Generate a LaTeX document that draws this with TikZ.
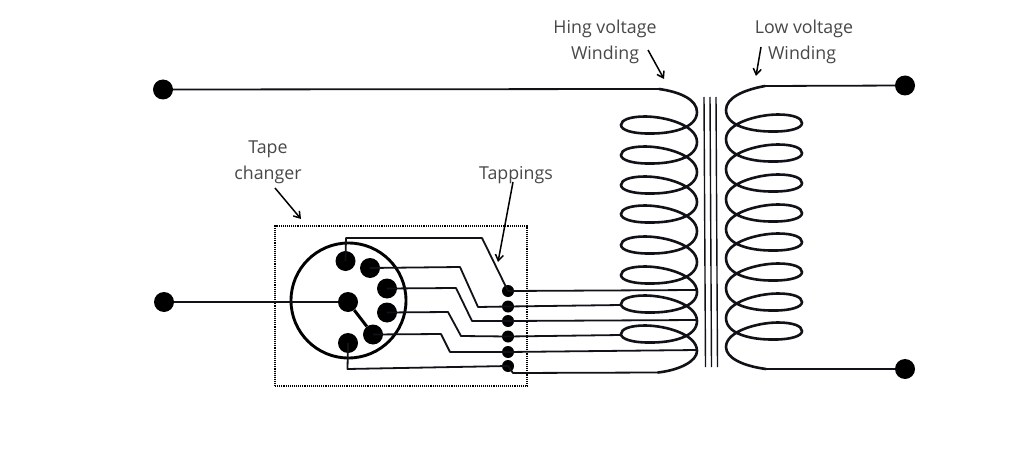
\documentclass[tikz,border=0pt]{standalone}
\usepackage{fontspec}
\setmainfont[Ligatures=TeX]{Open Sans}
\usetikzlibrary{arrows.meta}
\definecolor{ink}{HTML}{111118}
\definecolor{lab}{HTML}{484848}
\tikzset{
  wire/.style={draw=ink,line width=1.8pt,line join=round},
  coil/.style={draw=ink,line width=2.6pt,line cap=round},
  core/.style={draw=ink,line width=1.4pt},
  term/.style={circle,fill=black,inner sep=0pt,minimum size=20pt},
  contact/.style={circle,fill=black,inner sep=0pt,minimum size=20pt},
  tap/.style={circle,fill=black,inner sep=0pt,minimum size=12pt},
  lbl/.style={text=lab,align=center,font=\fontsize{17.8}{26}\selectfont,inner sep=0pt},
  call/.style={draw=black,line width=1.5pt,-{Straight Barb[length=6pt,width=8pt]}},
}
\begin{document}
\begin{tikzpicture}[x=1pt,y=-1pt]
\useasboundingbox[fill=white] (0,0) rectangle (1024,465);
% terminals
\node[term] (tl1) at (163,89.5) {};
\node[term] (tl2) at (164,302) {};
\node[term] (tr1) at (905,85.5) {};
\node[term] (tr2) at (905,369) {};
% coil ends
\coordinate (hvtop) at (659,89);
\coordinate (hvbot) at (658,372.5);
\coordinate (lvtop) at (765,86);
\coordinate (lvbot) at (766,369);
% high voltage coil
\draw[coil] (hvtop) .. controls (681,92) and (697,100) .. (697,112)
  \foreach \y in {125,155,185,214,245,275,304,334}{
   .. controls (697,\y+3) and (672,\y+9) .. (648,\y+8.5)
   .. controls (632,\y+8.5) and (621,\y+5) .. (621,\y)
   .. controls (621,\y-5) and (630,\y-8.5) .. (645,\y-8.5)
   .. controls (665,\y-8.5) and (697,\y) .. (697,\y+17)
  } .. controls (697,361) and (680,370) .. (hvbot);
% low voltage coil
\draw[coil] (lvtop) .. controls (743,90) and (726,98) .. (726,110)
  \foreach \y in {123,153,183,213,242,272,302,331}{
   .. controls (726,\y+3) and (751,\y+9) .. (775,\y+8.5)
   .. controls (791,\y+8.5) and (802,\y+5) .. (802,\y)
   .. controls (802,\y-5) and (793,\y-8.5) .. (778,\y-8.5)
   .. controls (758,\y-8.5) and (726,\y) .. (726,\y+16)
  } .. controls (726,358) and (743,366) .. (lvbot);
% core
\draw[core] (704,97) -- (705.5,367);
\draw[core] (710,97) -- (711.5,367);
\draw[core] (716,97) -- (717.5,367);
% tape changer box
\node[draw=black,line width=1.1pt,densely dotted,inner sep=0pt,minimum width=252pt,minimum height=160pt] (box) at (401,306) {};
\node[draw=black,circle,line width=2.9pt,inner sep=0pt,minimum size=115pt] (ring) at (348.5,300.5) {};
% contacts
\node[contact] (c0) at (348,302) {};
\node[contact] (c1) at (345.5,261) {};
\node[contact] (c2) at (370,268) {};
\node[contact] (c3) at (387,288.5) {};
\node[contact] (c4) at (387,312.5) {};
\node[contact] (c5) at (373,334.5) {};
\node[contact] (c6) at (348,343) {};
% tappings
\node[tap] (t1) at (508,291) {};
\node[tap] (t2) at (508,306.5) {};
\node[tap] (t3) at (508,321) {};
\node[tap] (t4) at (508,336.5) {};
\node[tap] (t5) at (508,352) {};
\node[tap] (t6) at (508,366) {};
% coil taps
\coordinate (k1) at (696,290);
\coordinate (k2) at (621,305);
\coordinate (k3) at (697,320);
\coordinate (k4) at (621,335);
\coordinate (k5) at (697,350);
% wires
\draw[wire] (tl1) -- (hvtop);
\draw[wire] (lvtop) -- (tr1);
\draw[wire] (lvbot) -- (tr2);
\draw[wire] (tl2) -- (c0);
\draw[draw=black,line width=3pt] (c0) -- (c5);
\draw[wire] (c1.center) -- (346,238) -- (482,238) -- (t1.center);
\draw[wire] (c2.center) -- (460,267) -- (478,307) -- (t2.center);
\draw[wire] (c3.center) -- (456,288) -- (472,321) -- (t3.center);
\draw[wire] (c4.center) -- (448,312) -- (461,336) -- (t4.center);
\draw[wire] (c5.center) -- (441,334) -- (450,352) -- (t5.center);
\draw[wire] (c6.center) -- (347.5,369) -- (t6.center);
\draw[wire] (t1.center) -- (k1);
\draw[wire] (t2.center) -- (k2);
\draw[wire] (t3.center) -- (k3);
\draw[wire] (t4.center) -- (k4);
\draw[wire] (t5.center) -- (k5);
\draw[wire] (t6.center) -- (513,373) -- (hvbot);
% labels
\node[lbl] (lhv) at (605,42) {Hing voltage\\Winding};
\node[lbl] (llv) at (804,42) {Low voltage\\\hspace*{-4pt}Winding};
\node[lbl] (ltc) at (268,162) {Tape\\changer};
\node[lbl] (ltp) at (516,175) {Tappings};
% callouts
\coordinate (a1) at (648,50); \coordinate (a2) at (664,79);
\coordinate (b1) at (761,47); \coordinate (b2) at (756,76);
\coordinate (d1) at (275,188); \coordinate (d2) at (301,219);
\coordinate (e1) at (513,182); \coordinate (e2) at (498,262);
\draw[call] (a1) -- (a2);
\draw[call] (b1) -- (b2);
\draw[call] (d1) -- (d2);
\draw[call] (e1) -- (e2);
\end{tikzpicture}
\end{document}
